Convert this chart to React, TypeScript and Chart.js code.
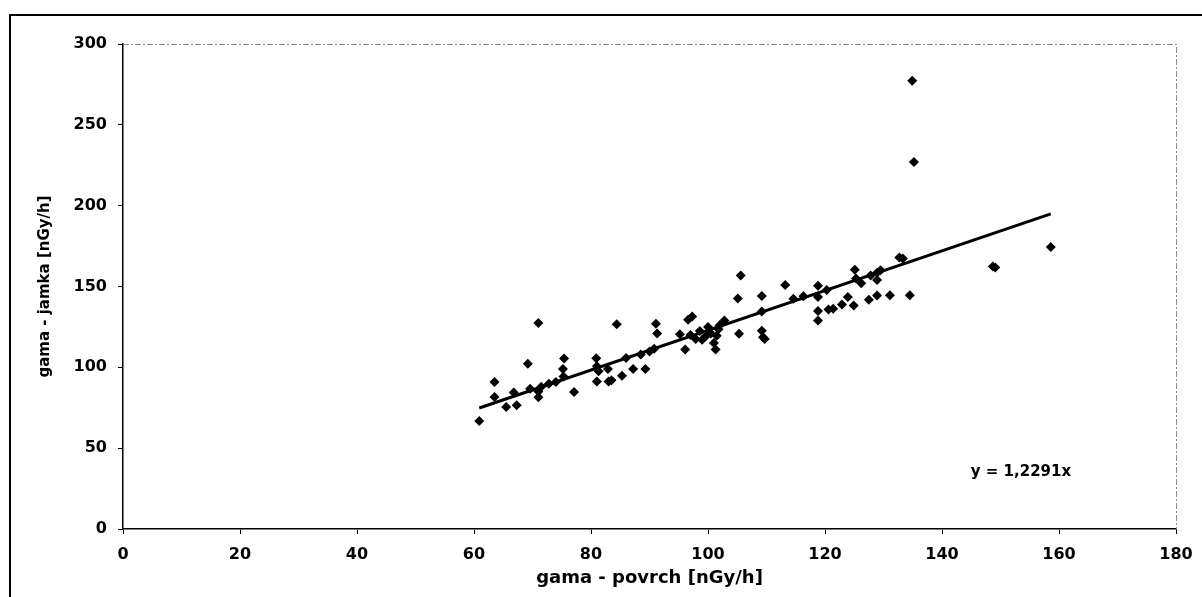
import React, { useEffect, useRef } from "react";
import { Chart, registerables } from "chart.js";

Chart.register(...registerables);

const xValues: number[] = [
  60.9, 63.5, 63.5, 65.5, 66.8, 67.3, 69.2, 69.6, 71.0, 71.0, 71.0, 71.5, 72.8, 74.0, 75.3, 75.4, 75.2, 77.1,
  80.9, 81.0, 81.3, 81.0, 83.0, 82.9, 83.5, 84.4, 85.3, 86.0, 87.2, 88.5, 89.3, 90.0, 90.8, 91.1, 91.3,
  95.2, 96.1, 96.6, 97.3, 97.0, 97.9, 98.6, 99.0, 99.7, 100.0, 101.0, 101.3, 101.5, 102.0, 102.8, 100.5, 101.8,
  105.1, 105.3, 105.6, 109.2, 109.2, 109.2, 109.4, 109.7, 113.2, 114.6, 116.3, 118.8, 118.8, 118.8, 118.8,
  120.3, 120.6, 121.4, 122.9, 123.9, 125.1, 124.9, 125.3, 126.2, 127.5, 127.8, 128.9, 128.9, 128.9, 129.5,
  131.1, 132.7, 133.3, 134.5, 134.9, 135.2, 148.7, 149.1, 158.6,
];
const yValues: number[] = [
  66.8, 90.9, 81.6, 75.4, 84.5, 76.5, 102.2, 86.8, 127.4, 85.0, 81.5, 88.0, 89.8, 91.0, 94.3, 105.4, 99.0, 84.8,
  105.6, 100.6, 97.6, 91.2, 91.2, 99.0, 92.0, 126.6, 94.8, 105.8, 99.0, 108.0, 99.0, 109.8, 111.5, 127.0, 121.0,
  120.5, 111.0, 129.5, 131.5, 120.0, 117.5, 122.5, 117.0, 119.5, 125.0, 115.0, 111.0, 119.5, 126.0, 129.0, 121.0, 123.5,
  142.6, 120.7, 156.8, 144.2, 134.5, 122.6, 118.6, 117.6, 151.0, 142.4, 144.0, 150.5, 143.5, 134.8, 129.0,
  147.8, 135.8, 136.2, 138.8, 143.5, 160.3, 138.2, 155.0, 152.0, 141.8, 156.8, 158.5, 154.0, 144.4, 160.0,
  144.6, 168.0, 167.3, 144.6, 277.3, 227.0, 162.3, 161.8, 174.4,
];

const trendSlope = 1.2291;
const trendRange: number[] = [60.9, 158.6];
const equationText = "y = 1,2291x";
const equationAt: number[] = [153.5, 35];

const xTitle = "gama - povrch [nGy/h]";
const yTitle = "gama - jamka [nGy/h]";
const xTicks: number[] = [0, 20, 40, 60, 80, 100, 120, 140, 160, 180];
const yTicks: number[] = [0, 50, 100, 150, 200, 250, 300];

const FONT = "'DejaVu Sans', sans-serif";

export default function App() {
  const ref = useRef<HTMLCanvasElement | null>(null);

  useEffect(() => {
    if (!ref.current) return;
    const points = xValues.map((x, i) => ({ x, y: yValues[i] }));
    const trend = trendRange.map((x) => ({ x, y: trendSlope * x }));

    const framePlugin = {
      id: "frame",
      afterDatasetsDraw(chart: any) {
        const { ctx, chartArea } = chart;
        ctx.save();
        ctx.strokeStyle = "#8a8a8a";
        ctx.lineWidth = 1;
        ctx.setLineDash([6, 2, 2, 2]);
        ctx.beginPath();
        ctx.moveTo(chartArea.left, chartArea.top + 0.5);
        ctx.lineTo(chartArea.right + 0.5, chartArea.top + 0.5);
        ctx.lineTo(chartArea.right + 0.5, chartArea.bottom);
        ctx.stroke();
        ctx.setLineDash([]);
        const xs = chart.scales.x;
        const ys = chart.scales.y;
        ctx.fillStyle = "#000";
        ctx.font = `bold 15px ${FONT}`;
        ctx.textAlign = "center";
        ctx.textBaseline = "middle";
        ctx.fillText(equationText, xs.getPixelForValue(equationAt[0]), ys.getPixelForValue(equationAt[1]));
        ctx.restore();
      },
    };

    const chart = new Chart(ref.current, {
      type: "scatter",
      data: {
        datasets: [
          {
            label: "data",
            data: points,
            pointStyle: "rectRot",
            pointRadius: 5,
            backgroundColor: "#000",
            borderColor: "#000",
            borderWidth: 0,
          },
          {
            type: "line",
            label: "trend",
            data: trend,
            borderColor: "#000",
            borderWidth: 3,
            pointRadius: 0,
            fill: false,
          } as any,
        ],
      },
      options: {
        animation: false,
        responsive: false,
        layout: { padding: { left: 0, top: 44, right: 26, bottom: 0 } },
        plugins: { legend: { display: false }, tooltip: { enabled: false } },
        scales: {
          x: {
            type: "linear",
            min: 0,
            max: 180,
            afterFit: (s: any) => {
              s.height = 68;
              s.paddingLeft = 0;
              s.paddingRight = 0;
            },
            afterBuildTicks: (s: any) => {
              s.ticks = xTicks.map((v) => ({ value: v }));
            },
            ticks: { color: "#000", font: { family: FONT, weight: "bold", size: 16 }, padding: 11 },
            grid: { display: true, drawOnChartArea: false, drawTicks: true, tickLength: 5, color: "#000" },
            border: { display: true, color: "#000", width: 1.5 },
            title: {
              display: true,
              text: xTitle,
              color: "#000",
              font: { family: FONT, weight: "bold", size: 18 },
              padding: { top: 0, bottom: 8 },
            },
          },
          y: {
            type: "linear",
            min: 0,
            max: 300,
            afterFit: (s: any) => {
              s.width = 123;
              s.paddingTop = 0;
              s.paddingBottom = 0;
            },
            afterBuildTicks: (s: any) => {
              s.ticks = yTicks.map((v) => ({ value: v }));
            },
            ticks: { color: "#000", font: { family: FONT, weight: "bold", size: 16 }, padding: 11 },
            grid: { display: true, drawOnChartArea: false, drawTicks: true, tickLength: 5, color: "#000" },
            border: { display: true, color: "#000", width: 1.5 },
            title: {
              display: true,
              text: yTitle,
              color: "#000",
              font: { family: FONT, weight: "bold", size: 15 },
              padding: { top: 36, bottom: 0 },
            },
          },
        },
      },
      plugins: [framePlugin],
    });
    return () => chart.destroy();
  }, []);

  return (
    <div style={{ position: "fixed", left: 0, top: 0, width: 1202, height: 597, background: "#fff", overflow: "hidden" }}>
      <canvas ref={ref} width={1202} height={597} style={{ position: "absolute", left: 0, top: 0 }} />
      <div
        style={{
          position: "absolute",
          left: 9,
          top: 14,
          width: 1220,
          height: 640,
          border: "2px solid #000",
          pointerEvents: "none",
        }}
      />
    </div>
  );
}
